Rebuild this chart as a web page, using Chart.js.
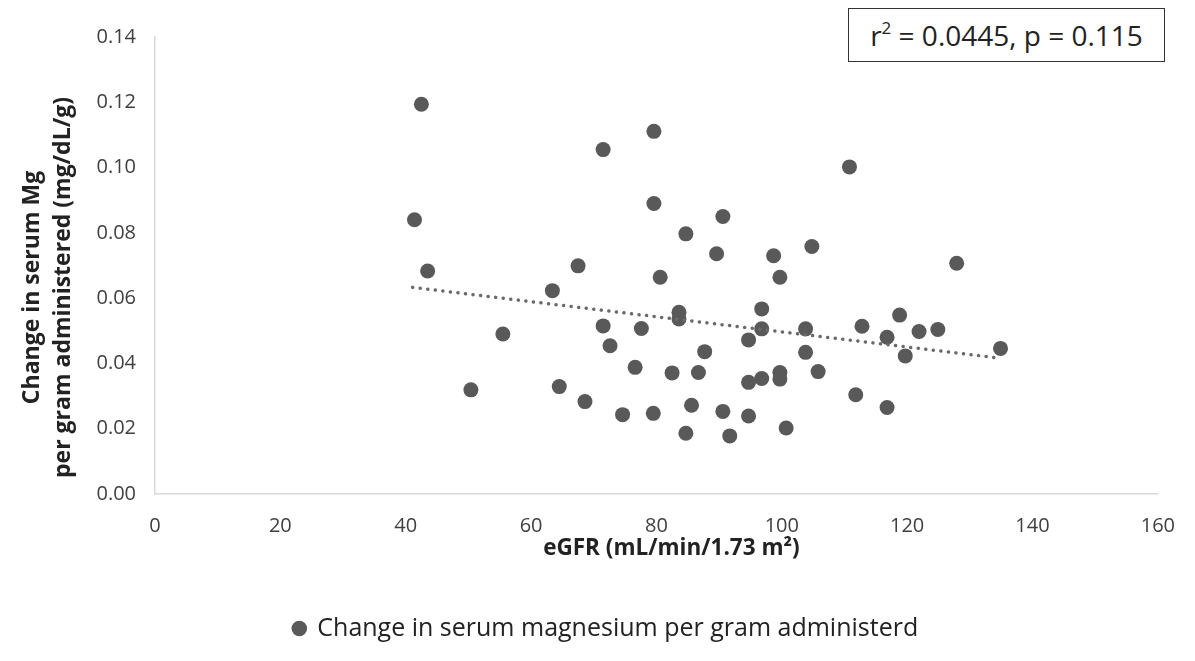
<!DOCTYPE html>
<html>
<head>
<meta charset="utf-8">
<script src="https://cdn.jsdelivr.net/npm/chart.js@4.4.1/dist/chart.umd.min.js"></script>
<style>
  html, body { margin: 0; padding: 0; background: #fff; }
  #wrap { position: relative; width: 1195px; height: 661px; }
  #c { position: absolute; left: 0; top: 0; }
  #stat {
    position: absolute; left: 848px; top: 8px; width: 315px; height: 52px;
    border: 1.5px solid #333; box-sizing: content-box;
    font-family: "Open Sans", sans-serif; font-size: 28px; color: #222;
    display: flex; align-items: center; justify-content: center; background: #fff;
  }
  #stat sup { font-size: 17px; position: relative; top: -2px; }
</style>
</head>
<body>
<div id="wrap">
  <canvas id="c" width="1195" height="661"></canvas>
  <div id="stat"><span>r<sup>2</sup> = 0.0445, p = 0.115</span></div>
</div>
<script>
// eGFR (mL/min/1.73 m²)
const egfr = [41.4, 42.5, 43.5, 50.4, 55.5, 63.4, 64.5, 67.5, 68.6, 71.5,
              71.5, 72.6, 74.6, 76.6, 77.6, 79.6, 79.6, 79.5, 80.6, 82.5,
              83.6, 83.6, 84.7, 84.7, 85.6, 86.7, 87.7, 89.6, 90.6, 90.6,
              91.7, 94.7, 94.7, 94.7, 96.8, 96.8, 96.8, 98.7, 99.7, 99.7,
              99.7, 100.7, 103.8, 103.8, 104.8, 105.8, 110.8, 111.8, 112.8, 116.8,
              116.8, 118.8, 119.7, 121.9, 124.9, 127.9, 134.9];
// Change in serum Mg per gram administered (mg/dL/g)
const mgChange = [0.0840, 0.1194, 0.0683, 0.0319, 0.0490, 0.0623, 0.0329, 0.0699, 0.0283, 0.1055,
                  0.0515, 0.0454, 0.0243, 0.0388, 0.0507, 0.1111, 0.0890, 0.0247, 0.0664, 0.0371,
                  0.0557, 0.0536, 0.0797, 0.0186, 0.0272, 0.0372, 0.0436, 0.0736, 0.0850, 0.0253,
                  0.0178, 0.0472, 0.0342, 0.0239, 0.0567, 0.0506, 0.0354, 0.0730, 0.0664, 0.0372,
                  0.0352, 0.0202, 0.0506, 0.0434, 0.0758, 0.0375, 0.1002, 0.0304, 0.0514, 0.0480,
                  0.0265, 0.0548, 0.0423, 0.0498, 0.0504, 0.0707, 0.0446];
// Linear trendline end points
const trendX = [41.1, 134.4];
const trendY = [0.0633, 0.0417];
// Axis ticks
const xTicks = [0, 20, 40, 60, 80, 100, 120, 140, 160];
const yTicks = [0.00, 0.02, 0.04, 0.06, 0.08, 0.10, 0.12, 0.14];

const seriesName = 'Change in serum magnesium per gram administerd';
const xTitle = 'eGFR (mL/min/1.73 m\u00B2)';
const yTitle = ['Change in serum Mg', 'per gram administered (mg/dL/g)'];

const pts = egfr.map((x, i) => ({ x: x, y: mgChange[i] }));
const trend = trendX.map((x, i) => ({ x: x, y: trendY[i] }));

const FONT = '"Open Sans", sans-serif';

// Draws the axis titles slightly off-centre, as in the original figure
const titleShift = {
  id: 'titleShift',
  afterLayout(chart) {
    const lg = chart.legend;
    if (lg) { lg.left += 26; lg.right += 26; }
  },
  afterDraw(chart) {
    const ctx = chart.ctx;
    const ys = chart.scales.y, xs = chart.scales.x;
    ctx.save();
    ctx.fillStyle = '#222';
    ctx.textAlign = 'center';
    ctx.textBaseline = 'middle';
    // x title
    ctx.font = 'bold 22.5px ' + FONT;
    ctx.fillText(xTitle, (xs.left + xs.right) / 2 + 15, 549);
    // y title (two lines, rotated)
    ctx.font = 'bold 23px ' + FONT;
    const cy = (ys.top + ys.bottom) / 2 + 22;
    ctx.translate(32, cy);
    ctx.rotate(-Math.PI / 2);
    ctx.fillText(yTitle[0], 0, 0);
    ctx.fillText(yTitle[1], 0, 31);
    ctx.restore();
  }
};

new Chart(document.getElementById('c'), {
  type: 'scatter',
  data: {
    datasets: [
      {
        label: seriesName,
        data: pts,
        backgroundColor: '#595959',
        borderColor: '#595959',
        borderWidth: 0,
        pointRadius: 7.5,
        pointHoverRadius: 7.5,
        order: 1
      },
      {
        label: 'trend',
        type: 'line',
        data: trend,
        borderColor: '#6a6a6a',
        borderWidth: 3.5,
        borderDash: [0.1, 7.5],
        borderCapStyle: 'round',
        pointRadius: 0,
        fill: false,
        order: 0
      }
    ]
  },
  plugins: [titleShift],
  options: {
    responsive: false,
    animation: false,
    layout: { padding: { left: 0, right: 35, top: 37, bottom: 10 } },
    plugins: {
      tooltip: { enabled: false },
      legend: {
        position: 'bottom',
        labels: {
          filter: (item) => item.datasetIndex === 0,
          usePointStyle: true,
          pointStyle: 'circle',
          boxWidth: 11,
          boxHeight: 11,
          padding: 12,
          color: '#222',
          font: { family: FONT, size: 25 }
        }
      }
    },
    scales: {
      x: {
        type: 'linear',
        min: 0, max: 160,
        afterBuildTicks: (s) => { s.ticks = xTicks.map(v => ({ value: v })); },
        afterFit: (s) => { s.height = 110; },
        grid: { display: false, drawTicks: false },
        border: { color: '#d9d9d9', width: 1.5 },
        ticks: { color: '#404040', padding: 20, font: { family: FONT, size: 20 } },
        title: { display: false }
      },
      y: {
        type: 'linear',
        min: 0, max: 0.14,
        afterBuildTicks: (s) => { s.ticks = yTicks.map(v => ({ value: v })); },
        afterFit: (s) => { s.width = 155; },
        grid: { display: false, drawTicks: false },
        border: { color: '#d9d9d9', width: 1.5 },
        ticks: {
          color: '#404040', padding: 19, font: { family: FONT, size: 20 },
          callback: (v) => Number(v).toFixed(2)
        },
        title: { display: false }
      }
    }
  }
});
</script>
</body>
</html>
